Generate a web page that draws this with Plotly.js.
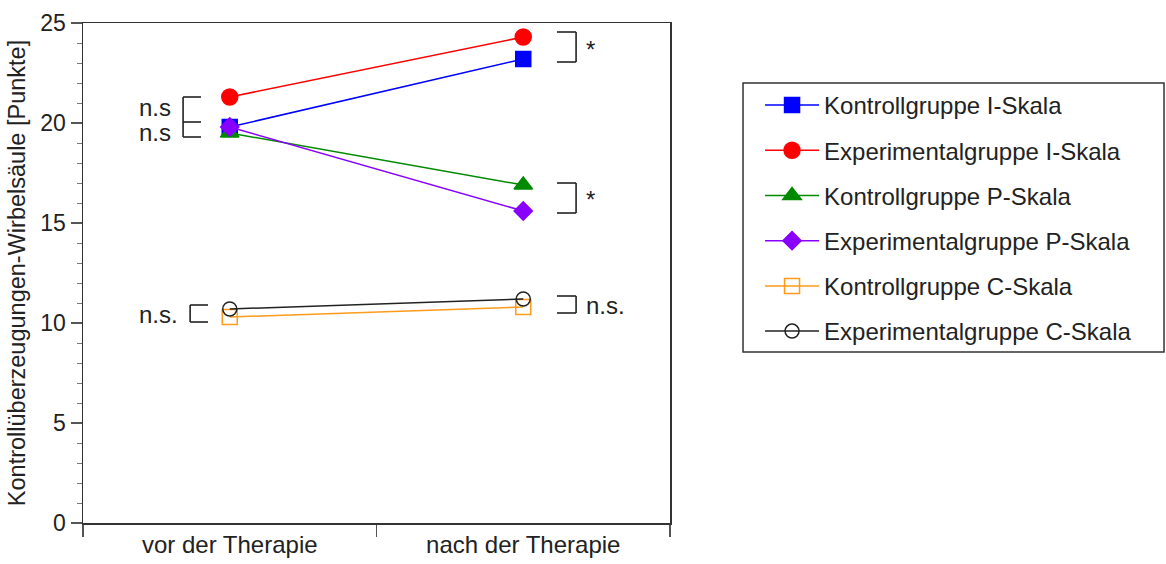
<!DOCTYPE html>
<html>
<head>
<meta charset="utf-8">
<script src="https://cdn.plot.ly/plotly-3.0.1.min.js"></script>
<style>html,body{margin:0;padding:0;background:#fff;}#chart{width:1166px;height:564px;}</style>
</head>
<body>
<div id="chart"></div>
<script>
const categories = ["vor der Therapie", "nach der Therapie"];
const seriesNames = [
  "Kontrollgruppe I-Skala",
  "Experimentalgruppe I-Skala",
  "Kontrollgruppe P-Skala",
  "Experimentalgruppe P-Skala",
  "Kontrollgruppe C-Skala",
  "Experimentalgruppe C-Skala"
];
const kontrollI = [19.8, 23.2];
const experimentalI = [21.3, 24.3];
const kontrollP = [19.5, 16.9];
const experimentalP = [19.8, 15.6];
const kontrollC = [10.3, 10.8];
const experimentalC = [10.7, 11.2];
const yTickVals = [0, 5, 10, 15, 20, 25];
const yTitle = "Kontrollüberzeugungen-Wirbelsäule [Punkte]";

const seriesValues = [kontrollI, experimentalI, kontrollP, experimentalP, kontrollC, experimentalC];
const styles = [
  {color: "#0000ff", symbol: "square", size: 15, fill: "#0000ff"},
  {color: "#ff0000", symbol: "circle", size: 16, fill: "#ff0000"},
  {color: "#008a00", symbol: "triangle-up", size: 16, fill: "#008a00"},
  {color: "#8800ff", symbol: "diamond", size: 14, fill: "#8800ff"},
  {color: "#ff9a1a", symbol: "square-open", size: 15, fill: "#ff9a1a"},
  {color: "#222222", symbol: "circle-open", size: 14, fill: "#222222"}
];

const traces = seriesNames.map((name, i) => ({
  type: "scatter",
  mode: "lines+markers",
  name: name,
  legendgroup: "g" + i,
  x: categories,
  y: seriesValues[i],
  line: {color: styles[i].color, width: 1.5},
  marker: {symbol: styles[i].symbol, size: styles[i].size, color: styles[i].fill,
           line: {color: styles[i].color, width: 1.5}}
}));

const FONT = "Liberation Sans, Arial, Helvetica, sans-serif";
const ink = "#222222";

function bracket(xa, xb, yTop, yBot, yMid) {
  const s = [];
  const ln = {color: ink, width: 1.6};
  s.push({type: "line", xref: "x", yref: "y", x0: xa, x1: xb, y0: yTop, y1: yTop, line: ln});
  s.push({type: "line", xref: "x", yref: "y", x0: xa, x1: xb, y0: yBot, y1: yBot, line: ln});
  s.push({type: "line", xref: "x", yref: "y", x0: xa, x1: xa, y0: yTop, y1: yBot, line: ln});
  if (yMid !== undefined) s.push({type: "line", xref: "x", yref: "y", x0: xa, x1: xb, y0: yMid, y1: yMid, line: ln});
  return s;
}
const shapes = [].concat(
  bracket(-0.159, -0.098, 21.3, 19.3, 20.05),
  bracket(-0.135, -0.074, 10.9, 10.05),
  bracket(1.180, 1.115, 24.55, 23.05),
  bracket(1.180, 1.115, 17.0, 15.5),
  bracket(1.180, 1.115, 11.35, 10.5),
  [{type: "rect", xref: "paper", yref: "paper", x0: 1.1244, x1: 1.8416, y0: 0.342, y1: 0.88,
    line: {color: "#333", width: 1.5}, fillcolor: "rgba(0,0,0,0)"}]
);

const annFont = {family: FONT, size: 24, color: ink};
const annotations = [
  {x: -0.195, y: 20.8, text: "n.s", xanchor: "right"},
  {x: -0.195, y: 19.55, text: "n.s", xanchor: "right"},
  {x: -0.168, y: 10.45, text: "n.s.", xanchor: "right"},
  {x: 1.208, y: 23.7, text: "*", xanchor: "left"},
  {x: 1.208, y: 16.2, text: "*", xanchor: "left"},
  {x: 1.206, y: 10.9, text: "n.s.", xanchor: "left"}
].map(a => Object.assign({xref: "x", yref: "y", showarrow: false, yanchor: "middle", font: annFont}, a));

const layout = {
  width: 1166, height: 564,
  margin: {l: 83, r: 496, t: 23, b: 41},
  paper_bgcolor: "#fff", plot_bgcolor: "#fff",
  font: {family: FONT, color: ink},
  showlegend: true,
  legend: {
    x: 1.1534, y: 0.88, xanchor: "left", yanchor: "top",
    borderwidth: 0, bgcolor: "rgba(0,0,0,0)",
    font: {family: FONT, size: 24, color: ink},
    tracegroupgap: 11, traceorder: "grouped", itemwidth: 54
  },
  xaxis: {
    type: "category", range: [-0.5, 1.5], tickson: "boundaries",
    ticks: "outside", ticklen: 12, tickwidth: 1.5, tickcolor: "#555",
    showline: true, linecolor: "#333", linewidth: 1.5, mirror: true,
    showgrid: false, zeroline: false,
    tickfont: {family: FONT, size: 24, color: ink}
  },
  yaxis: {
    range: [0, 25], tickvals: yTickVals, ticks: "outside", ticklen: 11, tickwidth: 1.5, tickcolor: "#555",
    minor: {dtick: 1, ticks: "outside", ticklen: 5, tickwidth: 1, tickcolor: "#777", showgrid: false},
    showline: true, linecolor: "#333", linewidth: 1.5, mirror: true,
    showgrid: false, zeroline: false,
    tickfont: {family: FONT, size: 23, color: ink},
    title: {text: yTitle, font: {family: FONT, size: 23.5, color: ink}, standoff: 8}
  },
  shapes: shapes,
  annotations: annotations
};

Plotly.newPlot("chart", traces, layout, {displayModeBar: false, staticPlot: true});
</script>
</body>
</html>
